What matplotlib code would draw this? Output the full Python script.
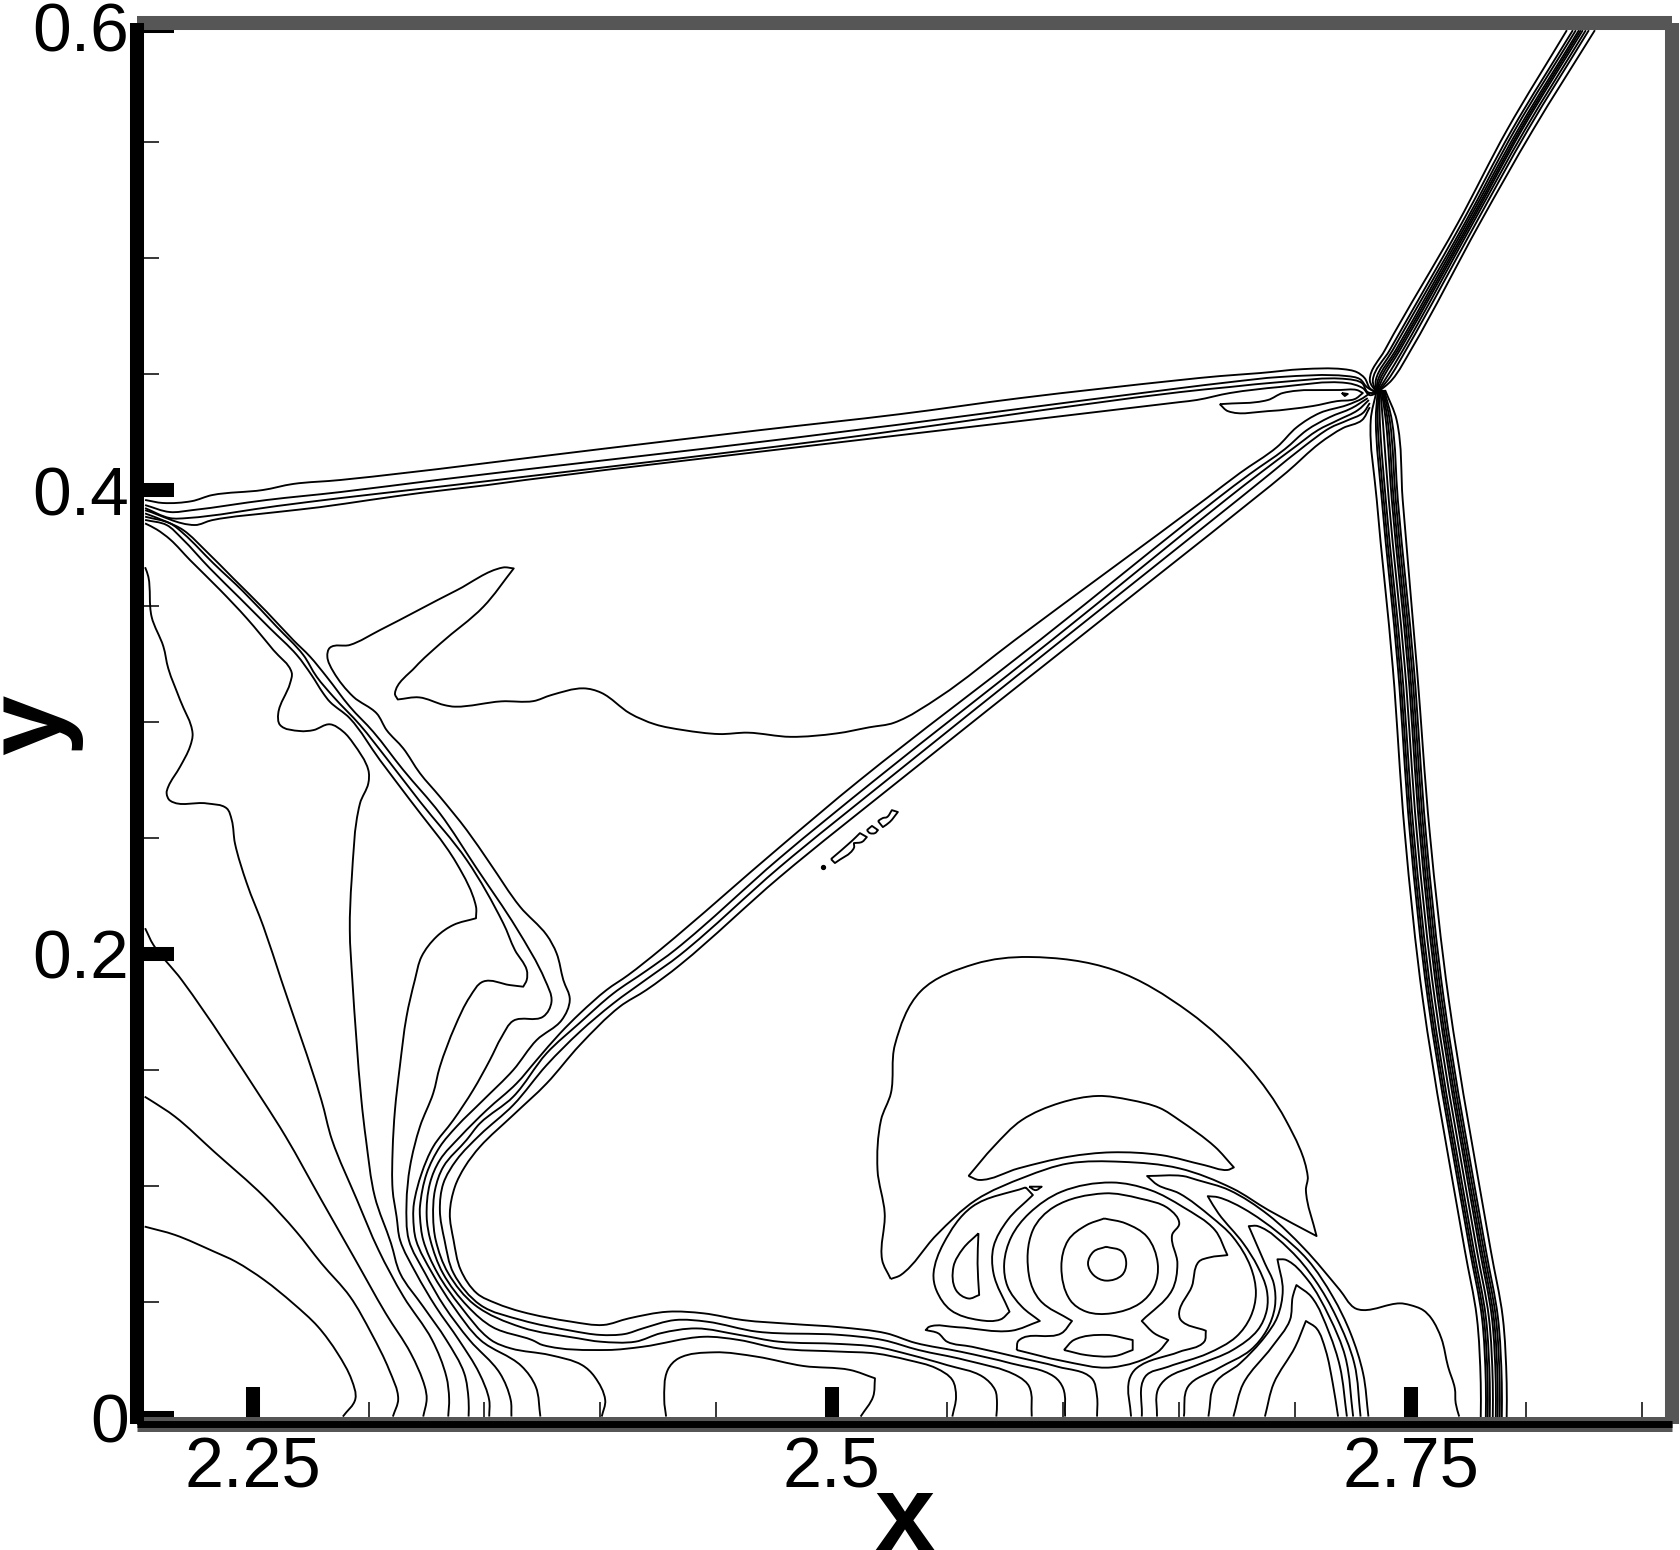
import matplotlib
matplotlib.use('Agg')
import matplotlib.pyplot as plt
from matplotlib.path import Path
from matplotlib.patches import PathPatch
import numpy as np

# upper shock band
u1_x = [2.2035,2.2112,2.2237,2.2324,2.2544,2.2674,2.2877,2.3999,2.4690,2.5295,2.5813,2.6504,2.6676,2.6849,2.7035,2.7208,2.7268,2.7302,2.7324,2.7354]
u1_y = [.3957,.3944,.3952,.3978,.4000,.4026,.4043,.4176,.4258,.4327,.4396,.4474,.4491,.4504,.4521,.4521,.4508,.4482,.4439,.4418]
u2_x = [2.2035,2.2142,2.2237,2.2561,2.2877,2.3295,2.4863,2.6504,2.6720,2.6935,2.7225,2.7281,2.7311,2.7354]
u2_y = [.3935,.3905,.3913,.3957,.3991,.4043,.4228,.4439,.4465,.4487,.4491,.4478,.4444,.4418]
u3_x = [2.2035,2.2142,2.2216,2.2605,2.2877,2.3364,2.4949,2.6504,2.6720,2.6935,2.7225,2.7290,2.7315,2.7354]
u3_y = [.3922,.3879,.3879,.3931,.3965,.4021,.4211,.4422,.4444,.4465,.4478,.4461,.4422,.4418]
u4_x = [2.2035,2.2250,2.2324,2.2605,2.2790,2.3006,2.3222,2.3511,2.3675,2.5079,2.6504,2.6577,2.6720,2.6935,2.7225,2.7294,2.7324,2.7354]
u4_y = [.3913,.3849,.3870,.3905,.3926,.3957,.3987,.4021,.4043,.4211,.4379,.4388,.4418,.4444,.4461,.4439,.4409,.4418]
wedge_x = [2.6676,2.6884,2.6948,2.7195,2.7268,2.7294,2.7259,2.7182,2.7078,2.6884,2.6711,2.6676]
wedge_y = [.4370,.4388,.4418,.4431,.4431,.4418,.4392,.4383,.4362,.4340,.4340,.4370]
speck_x = [2.7203,2.7229,2.7216,2.7203]
speck_y = [.4418,.4414,.4405,.4418]

# shock going up to the top right, all lines read at the same heights
rise_y = [.4418,.4474,.4603,.5150,.5551,.5982]
r1_x = [2.7354,2.7324,2.7389,2.7704,2.7916,2.8175]
r2_x = [2.7354,2.7337,2.7410,2.7721,2.7937,2.8201]
r3_x = [2.7354,2.7350,2.7423,2.7734,2.7950,2.8214]
r4_x = [2.7354,2.7359,2.7436,2.7743,2.7963,2.8227]
r5_x = [2.7354,2.7367,2.7445,2.7752,2.7972,2.8235]
r6_x = [2.7354,2.7376,2.7454,2.7760,2.7980,2.8244]
r7_x = [2.7354,2.7389,2.7467,2.7769,2.7993,2.8257]
r8_x = [2.7354,2.7402,2.7480,2.7782,2.8006,2.8270]
r9_x = [2.7354,2.7419,2.7501,2.7799,2.8028,2.8296]

# mach stem, same heights for every line
stem_y = [.4431,.4301,.3957,.3237,.2521,.1802,.0724,.0435,.0151,.0004]
s0_x = [2.7354,2.7328,2.7354,2.7423,2.7475,2.7553,2.7734,2.7786,2.7803,2.7803]
s1_x = [2.7358,2.7350,2.7376,2.7445,2.7497,2.7575,2.7756,2.7808,2.7825,2.7825]
s2_x = [2.7362,2.7358,2.7384,2.7453,2.7505,2.7583,2.7764,2.7816,2.7833,2.7833]
s3_x = [2.7366,2.7367,2.7393,2.7462,2.7514,2.7592,2.7773,2.7825,2.7842,2.7842]
s4_x = [2.7370,2.7380,2.7406,2.7475,2.7527,2.7605,2.7786,2.7838,2.7855,2.7855]
s5_x = [2.7374,2.7393,2.7419,2.7488,2.7540,2.7618,2.7799,2.7851,2.7868,2.7868]
s6_x = [2.7378,2.7401,2.7427,2.7496,2.7548,2.7626,2.7807,2.7859,2.7876,2.7876]
s7_x = [2.7382,2.7410,2.7436,2.7505,2.7557,2.7635,2.7816,2.7868,2.7885,2.7885]
s8_x = [2.7386,2.7419,2.7445,2.7514,2.7566,2.7644,2.7825,2.7877,2.7894,2.7894]
s9_x = [2.7390,2.7440,2.7466,2.7527,2.7583,2.7665,2.7846,2.7898,2.7915,2.7915]

# diagonal band that turns into the wall jet
f_x = [2.7315,2.7246,2.7151,2.7052,2.6957,2.6806,2.6668,2.5899,2.5122,2.4776,2.4258,2.4121,2.4028,2.3913,2.3827,2.3726,2.3639,2.3510,2.3395,2.3308,2.3265,2.3251,2.3267,2.3321,2.3429,2.3537,2.3706,2.3753,2.4030,2.4184,2.4447,2.4601,2.4770,2.5036,2.5190,2.5329,2.5452,2.5521,2.5537,2.5521]
f_y = [.4396,.4353,.4314,.4258,.4176,.4069,.3965,.3353,.2750,.2461,.2017,.1909,.1845,.1744,.1658,.1543,.1442,.1327,.1212,.1112,.1011,.0868,.0767,.0624,.0480,.0391,.0336,.0314,.0293,.0307,.0350,.0336,.0300,.0286,.0278,.0250,.0214,.0164,.0092,.0006]
g_x = [2.7320,2.7272,2.7186,2.7100,2.7000,2.6845,2.6711,2.5951,2.5187,2.4776,2.4323,2.4200,2.4057,2.3913,2.3769,2.3625,2.3481,2.3423,2.3323,2.3287,2.3279,2.3290,2.3344,2.3459,2.3660,2.3907,2.4000,2.4153,2.4261,2.4415,2.4601,2.4770,2.5036,2.5190,2.5344,2.5498,2.5652,2.5706,2.5714,2.5711]
g_y = [.4388,.4344,.4301,.4258,.4185,.4069,.3965,.3353,.2750,.2414,.2017,.1928,.1830,.1704,.1572,.1385,.1270,.1198,.1083,.0983,.0868,.0767,.0624,.0487,.0391,.0343,.0329,.0329,.0365,.0386,.0358,.0329,.0319,.0307,.0271,.0228,.0178,.0120,.0063,.0006]
h_x = [2.7324,2.7294,2.7229,2.7151,2.7048,2.6892,2.6763,2.5994,2.5239,2.4776,2.4344,2.4200,2.4057,2.3913,2.3769,2.3625,2.3481,2.3380,2.3323,2.3308,2.3328,2.3367,2.3483,2.3660,2.3876,2.4000,2.4107,2.4184,2.4323,2.4462,2.4678,2.5036,2.5221,2.5375,2.5575,2.5807,2.5853,2.5864]
h_y = [.4375,.4332,.4301,.4267,.4194,.4069,.3965,.3353,.2750,.2375,.1995,.1891,.1787,.1665,.1521,.1349,.1220,.1112,.1011,.0896,.0767,.0624,.0487,.0422,.0376,.0358,.0362,.0386,.0422,.0415,.0372,.0358,.0336,.0293,.0250,.0178,.0135,.0006]
i_x = [2.7324,2.7290,2.7208,2.7108,2.6966,2.6828,2.6055,2.5295,2.4776,2.4344,2.4200,2.4085,2.3913,2.3769,2.3625,2.3481,2.3416,2.3373,2.3351,2.3367,2.3398,2.3468,2.3552,2.3660,2.3876,2.4015,2.4123,2.4292,2.4447,2.4616,2.4832,2.5036,2.5236,2.5360,2.5560,2.5776,2.5961,2.6000,2.6008]
i_y = [.4357,.4301,.4267,.4202,.4077,.3965,.3353,.2750,.2332,.1952,.1845,.1773,.1608,.1442,.1306,.1169,.1083,.0997,.0882,.0767,.0638,.0537,.0494,.0458,.0415,.0401,.0429,.0458,.0451,.0422,.0405,.0391,.0365,.0324,.0285,.0235,.0178,.0127,.0006]

# long contour: joins the diagonal band, the arc with the flag, then the band down to the bottom
e_x = [2.7324,2.7294,2.7225,2.7108,2.7009,2.6923,2.6763,2.6620,2.5791,2.5467,2.5270,2.5162,2.5023,2.4822,2.4638,2.4514,2.4360,2.4237,2.4129,2.4005,2.3928,2.3789,2.3712,2.3574,2.3373,2.3327,2.3219,2.3126,2.3114,2.3203,2.3311,2.3496,2.3627,2.3581,2.3381,2.3049,2.2919,2.2833,2.2822,2.2848,2.2934,2.3035,2.3078,2.3150,2.3222,2.3308,2.3424,2.3524,2.3654,2.3769,2.3812,2.3841,2.3869,2.3834,2.3726,2.3625,2.3495,2.3380,2.3308,2.3251,2.3222,2.3222,2.3236,2.3298,2.3398,2.3529,2.3614,2.3784,2.3922,2.3976,2.4022,2.4007]
e_y = [.4418,.4396,.4366,.4332,.4271,.4185,.4073,.3965,.3353,.3109,.2997,.2977,.2951,.2936,.2954,.2948,.2965,.2990,.3037,.3126,.3145,.3116,.3090,.3089,.3066,.3073,.3106,.3097,.3123,.3238,.3339,.3497,.3662,.3666,.3568,.3396,.3332,.3320,.3282,.3217,.3109,.3037,.2965,.2886,.2779,.2678,.2534,.2391,.2204,.2082,.2003,.1888,.1802,.1715,.1629,.1500,.1370,.1256,.1169,.1054,.0911,.0868,.0767,.0624,.0480,.0336,.0300,.0271,.0228,.0178,.0077,.0006]

# band from the left wall going down right, then down to the bottom
d_x = [2.2035,2.2128,2.2200,2.2301,2.2416,2.2560,2.2675,2.2747,2.2819,2.2919,2.3020,2.3150,2.3308,2.3467,2.3639,2.3762,2.3790,2.3754,2.3625,2.3575,2.3524,2.3452,2.3366,2.3279,2.3229,2.3196,2.3193,2.3205,2.3275,2.3367,2.3483,2.3660,2.3722,2.3742]
d_y = [.3899,.3863,.3827,.3734,.3619,.3475,.3353,.3282,.3195,.3066,.2958,.2793,.2606,.2369,.2111,.1888,.1794,.1730,.1712,.1643,.1543,.1414,.1284,.1169,.1054,.0925,.0868,.0767,.0624,.0480,.0336,.0224,.0135,.0006]
c_x = [2.2035,2.2143,2.2200,2.2330,2.2459,2.2603,2.2718,2.2776,2.2848,2.2963,2.3078,2.3222,2.3424,2.3582,2.3632,2.3683,2.3683,2.3668,2.3610,2.3495,2.3438,2.3373,2.3308,2.3279,2.3222,2.3179,2.3164,2.3174,2.3244,2.3328,2.3436,2.3567,2.3614,2.3617]
c_y = [.3885,.3856,.3813,.3684,.3562,.3411,.3289,.3195,.3109,.2987,.2843,.2657,.2405,.2132,.2017,.1931,.1888,.1859,.1866,.1881,.1816,.1687,.1514,.1399,.1256,.1083,.0925,.0767,.0624,.0480,.0336,.0193,.0077,.0006]
b_x = [2.2035,2.2128,2.2193,2.2315,2.2445,2.2574,2.2690,2.2754,2.2804,2.2833,2.2919,2.3049,2.3179,2.3380,2.3464,2.3464,2.3366,2.3294,2.3229,2.3200,2.3164,2.3135,2.3114,2.3104,2.3104,2.3121,2.3136,2.3205,2.3290,2.3390,2.3478,2.3521,2.3521]
b_y = [.3871,.3849,.3792,.3662,.3533,.3404,.3289,.3202,.3124,.3087,.3016,.2836,.2664,.2391,.2204,.2154,.2125,.2075,.1989,.1888,.1730,.1514,.1327,.1155,.0983,.0868,.0767,.0624,.0480,.0336,.0193,.0077,.0006]
a_x = [2.2035,2.2085,2.2143,2.2229,2.2359,2.2474,2.2589,2.2668,2.2661,2.2610,2.2618,2.2704,2.2762,2.2833,2.2891,2.2934,2.2999,2.2999,2.2963,2.2927,2.2919,2.2930,2.2969,2.2989,2.3027,2.3097,2.3136,2.3236,2.3336,2.3413,2.3432,2.3432]
a_y = [.3856,.3830,.3787,.3698,.3569,.3447,.3310,.3213,.3167,.3037,.2987,.2961,.2965,.2990,.2958,.2908,.2793,.2736,.2649,.2319,.2103,.1888,.1371,.1199,.0954,.0753,.0624,.0480,.0336,.0193,.0077,.0006]

# lower left fan
w1_x = [2.2033,2.2164,2.2333,2.2426,2.2549,2.2673,2.2781,2.2866,2.2927,2.2943,2.2889]
w1_y = [.0825,.0789,.0717,.0674,.0595,.0495,.0394,.0279,.0164,.0082,.0006]
w2_x = [2.2033,2.2056,2.2164,2.2333,2.2549,2.2688,2.2796,2.2920,2.3012,2.3089,2.3128,2.3105]
w2_y = [.1385,.1371,.1299,.1148,.0954,.0803,.0667,.0523,.0365,.0207,.0082,.0006]
w3_x = [2.2035,2.2071,2.2193,2.2542,2.2642,2.2796,2.2935,2.3074,2.3182,2.3243,2.3251,2.3236]
w3_y = [.2111,.2039,.1888,.1371,.1213,.0940,.0696,.0451,.0279,.0135,.0082,.0006]
w4_x = [2.2035,2.2049,2.2063,2.2114,2.2135,2.2186,2.2240,2.2229,2.2186,2.2135,2.2128,2.2143,2.2301,2.2387,2.2409,2.2423,2.2474,2.2546,2.2623,2.2796,2.2842,2.2950,2.3043,2.3151,2.3274,2.3336,2.3348,2.3344]
w4_y = [.3667,.3626,.3454,.3325,.3231,.3095,.2951,.2894,.2807,.2721,.2692,.2661,.2649,.2628,.2578,.2477,.2305,.2118,.1888,.1371,.1199,.0940,.0724,.0523,.0337,.0178,.0082,.0006]

# blob at the bottom between the walls
foot_x = [2.4285,2.4277,2.4292,2.4339,2.4493,2.4678,2.4878,2.5079,2.5187,2.5179,2.5125]
foot_y = [.0006,.0077,.0207,.0257,.0283,.0264,.0224,.0207,.0171,.0092,.0006]

# vortex structure
p_x = [2.6293,2.6285,2.6316,2.6501,2.6609,2.6616,2.6508,2.6501,2.6555,2.6585,2.6632,2.6709,2.6655,2.6516,2.6377,2.6208,2.5992,2.5853,2.5776,2.5745,2.5760,2.5822,2.5899,2.5776,2.5544,2.5421,2.5406,2.5460,2.5498,2.5606,2.5807,2.5976,2.6123,2.6146,2.6146]
p_y = [.0006,.0164,.0214,.0285,.0329,.0376,.0422,.0458,.0566,.0673,.0692,.0702,.0810,.0910,.0982,.1015,.0975,.0882,.0781,.0666,.0566,.0479,.0418,.0376,.0391,.0393,.0379,.0365,.0329,.0307,.0261,.0221,.0171,.0092,.0006]
q_x = [2.5799,2.5807,2.5992,2.6038,2.5899,2.5853,2.5869,2.5961,2.6177,2.6331,2.6454,2.6501,2.6470,2.6493,2.6470,2.6339,2.6393,2.6454,2.6408,2.6208,2.5992,2.5799]
q_y = [.0293,.0333,.0365,.0418,.0508,.0609,.0810,.0910,.0968,.0946,.0903,.0839,.0788,.0666,.0551,.0418,.0365,.0336,.0285,.0218,.0247,.0293]
t1_x = [2.6339,2.6354,2.6454,2.6624,2.6747,2.6809,2.6832,2.6809,2.6732,2.6639,2.6501,2.6408,2.6362,2.6516,2.6578,2.6717,2.6886,2.7040,2.7195,2.7257,2.7295,2.7454,2.7497,2.7554,2.7590,2.7633,2.7662,2.7691,2.7695,2.7710]
t1_y = [.0006,.0178,.0221,.0278,.0350,.0436,.0537,.0652,.0781,.0867,.0968,.1004,.1043,.1043,.1026,.0982,.0875,.0731,.0551,.0475,.0465,.0494,.0487,.0465,.0429,.0343,.0221,.0128,.0063,.0006]
t2_x = [2.6405,2.6408,2.6447,2.6578,2.6732,2.6840,2.6879,2.6879,2.6840,2.6778,2.6670,2.6624,2.6670,2.6778,2.6932,2.7056,2.7164,2.7241,2.7295,2.7318]
t2_y = [.0006,.0120,.0171,.0228,.0293,.0379,.0465,.0551,.0652,.0752,.0882,.0956,.0951,.0903,.0796,.0681,.0523,.0365,.0192,.0006]
t3_x = [2.6521,2.6539,2.6670,2.6809,2.6879,2.6914,2.6909,2.6871,2.6801,2.6840,2.6979,2.7087,2.7179,2.7257,2.7284]
t3_y = [.0006,.0135,.0214,.0293,.0379,.0479,.0580,.0666,.0827,.0827,.0724,.0595,.0436,.0235,.0006]
t4_x = [2.6627,2.6655,2.6763,2.6871,2.6925,2.6948,2.6925,2.6963,2.7056,2.7149,2.7218,2.7252]
t4_y = [.0006,.0149,.0235,.0350,.0436,.0551,.0684,.0681,.0595,.0436,.0264,.0006]
t5_x = [2.6735,2.6778,2.6902,2.6979,2.6991,2.7007,2.7071,2.7149,2.7195,2.7225]
t5_y = [.0006,.0149,.0307,.0422,.0523,.0573,.0523,.0365,.0221,.0006]
t6_x = [2.6871,2.6909,2.7002,2.7048,2.7094,2.7133,2.7164,2.7187]
t6_y = [.0006,.0149,.0307,.0418,.0386,.0293,.0149,.0006]
loop_x = [2.5838,2.5869,2.5760,2.5699,2.5699,2.5768,2.5730,2.5637,2.5514,2.5452,2.5440,2.5483,2.5606,2.5838]
loop_y = [.0994,.0961,.0853,.0738,.0623,.0458,.0425,.0422,.0465,.0551,.0623,.0752,.0910,.0994]
tri_x = [2.5853,2.5907,2.5881,2.5853]
tri_y = [.0997,.0997,.0982,.0997]
leaf_x = [2.5634,2.5568,2.5526,2.5537,2.5591,2.5637,2.5630,2.5634]
leaf_y = [.0796,.0731,.0652,.0551,.0515,.0530,.0666,.0796]
ring_x = [2.6177,2.6269,2.6362,2.6408,2.6393,2.6331,2.6208,2.6100,2.6030,2.5992,2.6022,2.6100,2.6177]
ring_y = [.0860,.0839,.0781,.0666,.0566,.0494,.0451,.0458,.0508,.0652,.0767,.0831,.0860]
core_x = [2.6185,2.6254,2.6272,2.6254,2.6185,2.6131,2.6107,2.6131,2.6185]
core_y = [.0738,.0717,.0666,.0616,.0592,.0616,.0666,.0717,.0738]
eye_x = [2.6003,2.6046,2.6185,2.6300,2.6300,2.6223,2.6100,2.6003]
eye_y = [.0293,.0336,.0358,.0336,.0293,.0267,.0271,.0293]
cap_x = [2.5591,2.5637,2.5807,2.6022,2.6208,2.6423,2.6609,2.6709,2.6737,2.6655,2.6501,2.6417,2.6288,2.6150,2.5986,2.5821,2.5699,2.5591]
cap_y = [.1043,.1026,.1076,.1126,.1145,.1133,.1090,.1069,.1080,.1169,.1284,.1336,.1371,.1388,.1358,.1284,.1169,.1043]
dome_x = [2.5255,2.5298,2.5452,2.5622,2.5838,2.6022,2.6254,2.6501,2.6732,2.6886,2.7094,2.7048,2.7056,2.6961,2.6797,2.6543,2.6219,2.5852,2.5618,2.5385,2.5273,2.5256,2.5213,2.5198,2.5229,2.5218,2.5255]
dome_y = [.0599,.0616,.0788,.0939,.1040,.1097,.1104,.1076,.0989,.0896,.0784,.0982,.1040,.1284,.1517,.1750,.1931,.1987,.1957,.1840,.1608,.1401,.1284,.1069,.0882,.0681,.0599]

# little islands under the diagonal band
isle1_x = [2.4997,2.5087,2.5122,2.5152,2.5131,2.5096,2.5096,2.5014,2.4997]
isle1_y = [.2409,.2487,.2521,.2504,.2483,.2478,.2457,.2392,.2409]
isle2_x = [2.5152,2.5174,2.5200,2.5187,2.5165,2.5152]
isle2_y = [.2534,.2552,.2534,.2521,.2521,.2534]
isle3_x = [2.5200,2.5221,2.5239,2.5260,2.5286,2.5251,2.5221,2.5200]
isle3_y = [.2573,.2586,.2590,.2620,.2612,.2569,.2547,.2573]
dot_x = [2.4962]
dot_y = [.2375]

contours = [(u1_x,u1_y),(u2_x,u2_y),(u3_x,u3_y),(u4_x,u4_y),(wedge_x,wedge_y),(speck_x,speck_y),
            (r1_x,rise_y),(r2_x,rise_y),(r3_x,rise_y),(r4_x,rise_y),(r5_x,rise_y),(r6_x,rise_y),(r7_x,rise_y),(r8_x,rise_y),(r9_x,rise_y),
            (s0_x,stem_y),(s1_x,stem_y),(s2_x,stem_y),(s3_x,stem_y),(s4_x,stem_y),(s5_x,stem_y),(s6_x,stem_y),(s7_x,stem_y),(s8_x,stem_y),(s9_x,stem_y),
            (f_x,f_y),(g_x,g_y),(h_x,h_y),(i_x,i_y),(e_x,e_y),(d_x,d_y),(c_x,c_y),(b_x,b_y),(a_x,a_y),
            (w1_x,w1_y),(w2_x,w2_y),(w3_x,w3_y),(w4_x,w4_y),(foot_x,foot_y),
            (p_x,p_y),(q_x,q_y),(t1_x,t1_y),(t2_x,t2_y),(t3_x,t3_y),(t4_x,t4_y),(t5_x,t5_y),(t6_x,t6_y),
            (loop_x,loop_y),(tri_x,tri_y),(leaf_x,leaf_y),(ring_x,ring_y),(core_x,core_y),(eye_x,eye_y),
            (cap_x,cap_y),(dome_x,dome_y),(isle1_x,isle1_y),(isle2_x,isle2_y),(isle3_x,isle3_y)]

x_major = [2.25, 2.5, 2.75]
x_major_labels = ['2.25', '2.5', '2.75']
x_minor = [2.3, 2.35, 2.4, 2.45, 2.55, 2.6, 2.65, 2.7, 2.8, 2.85]
y_major = [0, 0.2, 0.4, 0.6]
y_major_labels = ['0', '0.2', '0.4', '0.6']
y_minor = [0.05, 0.1, 0.15, 0.25, 0.3, 0.35, 0.45, 0.5, 0.55]


def smooth_path(cx, cy):
    # bezier through the read points, sharp turns stay corners
    pts = np.column_stack([cx, cy])
    seg = np.diff(pts, axis=0)
    seg_len = np.maximum(np.hypot(seg[:, 0], seg[:, 1]), 1e-9)
    unit = seg / seg_len[:, None]
    leave = np.zeros_like(pts)
    arrive = np.zeros_like(pts)
    leave[0] = unit[0]
    arrive[-1] = unit[-1]
    for k in range(1, len(pts)-1):
        if np.dot(unit[k-1], unit[k]) < 0.35:
            arrive[k] = unit[k-1]
            leave[k] = unit[k]
        else:
            mid = unit[k-1] + unit[k]
            mid = mid / np.hypot(mid[0], mid[1])
            arrive[k] = mid
            leave[k] = mid
    verts = [pts[0]]
    codes = [Path.MOVETO]
    for k in range(len(seg)):
        verts.append(pts[k] + leave[k]*seg_len[k]/3)
        verts.append(pts[k+1] - arrive[k+1]*seg_len[k]/3)
        verts.append(pts[k+1])
        codes += [Path.CURVE4]*3
    return Path(verts, codes)


W, H = 1680, 1550
grey = '#565656'
fig = plt.figure(figsize=(W/100, H/100), dpi=100)
ax = fig.add_axes([137/W, 1-1424/H, 1535/W, 1401/H])

for cx, cy in contours:
    ax.add_patch(PathPatch(smooth_path(cx, cy), fill=False, edgecolor='black', lw=1.35, joinstyle='round', zorder=2))
ax.plot(dot_x, dot_y, 'o', color='black', ms=2.8, zorder=2)
ax.set_xlim(2.2, 2.8629)
ax.set_ylim(-0.0026, 0.6013)

# frame: grey behind, black axis lines on top
ax.spines['top'].set_visible(False)
ax.spines['right'].set_visible(False)
ax.plot([0, 1], [1, 1], transform=ax.transAxes, color=grey, lw=10.1, clip_on=False, solid_capstyle='butt', zorder=2.3)
ax.plot([1, 1], [0, 1], transform=ax.transAxes, color=grey, lw=10.1, clip_on=False, solid_capstyle='butt', zorder=2.3)
ax.plot([0, 1], [0, 0], transform=ax.transAxes, color=grey, lw=10.8, clip_on=False, solid_capstyle='butt', zorder=2.3)
ax.spines['left'].set_linewidth(10.1)
ax.spines['left'].set_capstyle('butt')
ax.spines['bottom'].set_linewidth(5.0)
ax.spines['bottom'].set_capstyle('butt')

ax.set_xticks(x_major)
ax.set_xticklabels(x_major_labels, family='Liberation Sans', fontsize=50.7)
ax.set_xticks(x_minor, minor=True)
ax.set_yticks(y_major)
ax.set_yticklabels(y_major_labels, family='Liberation Sans', fontsize=50)
ax.set_yticks(y_minor, minor=True)
ax.tick_params(which='major', direction='in', length=26.6, width=10.1, color='black')
ax.tick_params(which='minor', direction='in', length=15.8, width=1.1, color='black')
ax.tick_params(axis='x', which='major', pad=9)
ax.tick_params(axis='y', which='major', pad=6)

fig.text(904/W, 0.0, 'x', family='Liberation Sans', fontweight='bold', fontsize=78, ha='center', va='baseline')
fig.text(33/W, 1-725/H, 'y', family='Liberation Sans', fontweight='bold', fontsize=78, rotation=90, ha='center', va='center')

fig.savefig('out.png', dpi=100)
